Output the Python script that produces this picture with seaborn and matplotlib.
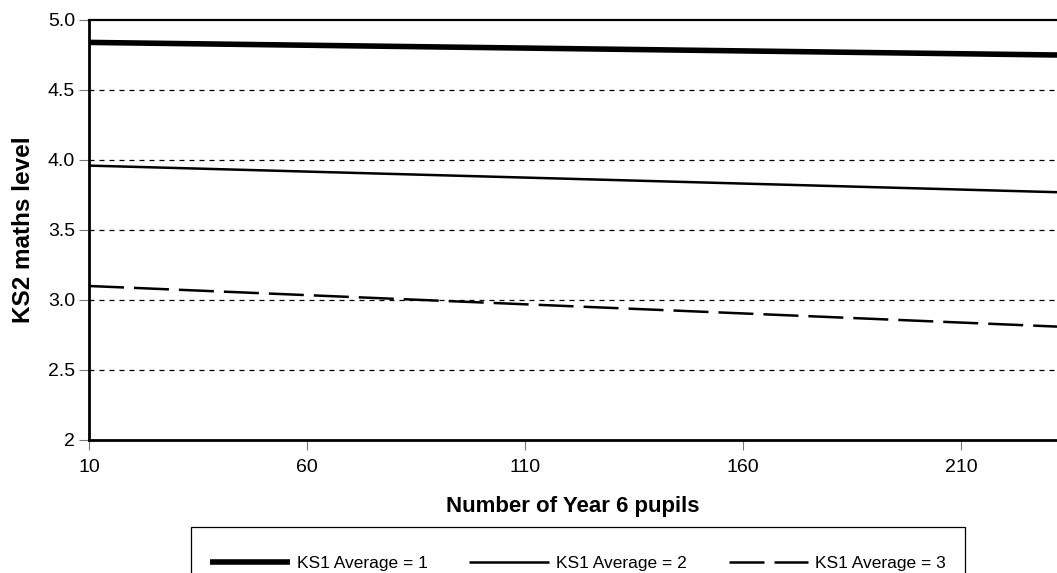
import numpy as np
import pandas as pd
import matplotlib
matplotlib.use("Agg")
import matplotlib.pyplot as plt
import seaborn as sns
from matplotlib.patches import Rectangle
from matplotlib.ticker import FixedLocator, FixedFormatter

# Fitted KS2 maths level against Year 6 cohort size
pupils = [10, 232]
ks1_avg_1 = [4.84, 4.75]
ks1_avg_2 = [3.96, 3.77]
ks1_avg_3 = [3.10, 2.81]
series_labels = ["KS1 Average = 1", "KS1 Average = 2", "KS1 Average = 3"]

x_ticks = [10, 60, 110, 160, 210]
y_ticks = [2.0, 2.5, 3.0, 3.5, 4.0, 4.5, 5.0]
y_tick_labels = ["2", "2.5", "3.0", "3.5", "4.0", "4.5", "5.0"]

sns.set_theme(style="white")
plt.rcParams["font.family"] = ["Liberation Sans", "DejaVu Sans"]
plt.rcParams["text.color"] = "black"
plt.rcParams["axes.labelcolor"] = "black"

W, H = 1057, 573
fig = plt.figure(figsize=(W / 100, H / 100), dpi=100)
ax = fig.add_axes([89 / W, 1 - 440 / H, 1 - 89 / W, 420 / H])

styles = [
    dict(lw=4.0, ls="-"),
    dict(lw=1.8, ls="-"),
    dict(lw=1.8, ls=(0, (14, 4))),
]
for vals, lab, st in zip([ks1_avg_1, ks1_avg_2, ks1_avg_3], series_labels, styles):
    df = pd.DataFrame({"pupils": pupils, "level": vals})
    sns.lineplot(data=df, x="pupils", y="level", ax=ax, color="black",
                 linewidth=st["lw"], linestyle=st["ls"], label=lab,
                 solid_capstyle="butt", dash_capstyle="butt")

for yv in [2.5, 3.0, 3.5, 4.0, 4.5]:
    ax.axhline(yv, color="black", lw=0.9, ls=(0, (4, 4)), zorder=0)

ax.set_xlim(10, 232)
ax.set_ylim(2.0, 5.0)
ax.xaxis.set_major_locator(FixedLocator(x_ticks))
ax.yaxis.set_major_locator(FixedLocator(y_ticks))
ax.yaxis.set_major_formatter(FixedFormatter(y_tick_labels))
ax.tick_params(axis="both", which="major", direction="out", length=7,
               width=0.8, color="#777777", labelsize=14, labelcolor="black",
               bottom=True, left=True)
ax.tick_params(axis="x", pad=7)
ax.tick_params(axis="y", pad=3)

for side in ["left", "bottom", "top"]:
    ax.spines[side].set_visible(True)
    ax.spines[side].set_color("black")
ax.spines["left"].set_linewidth(2.0)
ax.spines["bottom"].set_linewidth(2.0)
ax.spines["top"].set_linewidth(1.6)
ax.spines["right"].set_visible(False)

ax.set_xlabel("Number of Year 6 pupils", fontsize=16, fontweight="bold", labelpad=14)
ax.set_ylabel("KS2 maths level", fontsize=17.5, fontweight="bold", labelpad=9)

# Legend entries in one row, inside a plain rectangular frame below the axis title
handles, labels = ax.get_legend_handles_labels()
ax.get_legend().remove()
fig.legend(handles, labels, loc="center", bbox_to_anchor=(578 / W, 1 - 563 / H),
           bbox_transform=fig.transFigure, ncol=3, frameon=False,
           fontsize=12.5, handlelength=4.6, handletextpad=0.4,
           columnspacing=2.4, borderpad=0.0)
fig.patches.append(Rectangle((191 / W, -0.05), (965 - 191) / W, 0.05 + 1 - 527 / H,
                             transform=fig.transFigure, fill=False,
                             edgecolor="black", linewidth=0.9))

fig.savefig("out.png", dpi=100, facecolor="white")
